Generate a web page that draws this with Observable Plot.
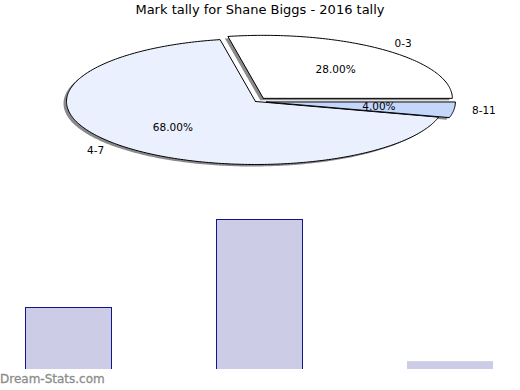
<!DOCTYPE html>
<html><head><meta charset="utf-8">
<script src="https://cdn.jsdelivr.net/npm/d3@7"></script>
<script src="https://cdn.jsdelivr.net/npm/@observablehq/plot@0.6"></script>
<style>
body{margin:0;background:#fff;font-family:"DejaVu Sans",sans-serif;}
#wrap{position:relative;width:520px;height:390px;overflow:hidden;background:#fff}
#title{position:absolute;left:0;top:1px;width:520px;text-align:center;font-size:13px;color:#000;line-height:18px}
#pie{position:absolute;left:0;top:0}
#bars{position:absolute;left:0;top:200px}
#wm{position:absolute;left:0;top:371px;font-size:12px;color:#8c8c8c;line-height:16px;-webkit-text-stroke:0.3px #8c8c8c}
</style></head><body>
<div id="wrap"><div id="pie"></div><div id="bars"></div><div id="title">Mark tally for Shane Biggs - 2016 tally</div><div id="wm">Dream-Stats.com</div></div>
<script>
const categories = ["0-3", "4-7", "8-11"];
const counts = [7, 17, 1];
const sliceColors = ["#ffffff", "#eaf0fd", "#c4d7fb"];
const explode = [0.065, 0, 0.058];

const total = d3.sum(counts);
const cum = [0, ...d3.cumsum(counts)];
const slices = categories.map((c, i) => {
  const a0 = 2 * Math.PI * cum[i] / total;
  const a1 = 2 * Math.PI * cum[i + 1] / total;
  const am = (a0 + a1) / 2;
  const ox = explode[i] * Math.cos(am), oy = explode[i] * Math.sin(am);
  const n = Math.max(4, Math.ceil((a1 - a0) / (Math.PI / 180)));
  const pts = [{x: ox, y: oy}];
  for (let k = 0; k <= n; k++) {
    const a = a0 + (a1 - a0) * k / n;
    pts.push({x: ox + Math.cos(a), y: oy + Math.sin(a)});
  }
  pts.push({x: ox, y: oy});
  return {cat: c, count: counts[i], pct: (counts[i] / total * 100).toFixed(2) + "%", am, ox, oy, pts, color: sliceColors[i]};
});

const pie = Plot.plot({
  width: 520, height: 200, margin: 0,
  x: {domain: [-1, 1], range: [66, 444], axis: null},
  y: {domain: [-1, 1], range: [164, 38], axis: null},
  marks: [
    ...slices.map(s => Plot.line(s.pts, {x: "x", y: "y", fill: "#8a8a8a", stroke: "none", dx: -3, dy: 2})),
    ...slices.map(s => Plot.line(s.pts, {x: "x", y: "y", fill: s.color, stroke: "#000", strokeWidth: 1})),
    Plot.text(slices, {x: d => d.ox + 0.6 * Math.cos(d.am), y: d => d.oy + 0.6 * Math.sin(d.am), text: "pct", fontSize: 10.5, fill: "#000", fontFamily: "DejaVu Sans"}),
    Plot.text(slices, {x: d => d.ox + 1.16 * Math.cos(d.am), y: d => d.oy + 1.13 * Math.sin(d.am), text: "cat", fontSize: 10.5, fill: "#000", fontFamily: "DejaVu Sans"})
  ]
});
document.getElementById("pie").appendChild(pie);

const rows = categories.map((c, i) => ({cat: c, count: counts[i]}));
const bars = Plot.plot({
  width: 520, height: 169, margin: 0,
  x: {domain: categories, range: [25, 493], paddingInner: 0.55, paddingOuter: 0, axis: null},
  y: {domain: [0, 17], range: [170, 19], axis: null},
  marks: [
    Plot.barY(rows, {x: "cat", y: "count", fill: "#ccccE6"}),
    Plot.barY(rows, {x: "cat", y: "count", fill: "none", stroke: "#14148e", strokeWidth: 1, shapeRendering: "crispEdges", filter: d => d.count > 1})
  ]
});
document.getElementById("bars").appendChild(bars);
</script>
</body></html>
